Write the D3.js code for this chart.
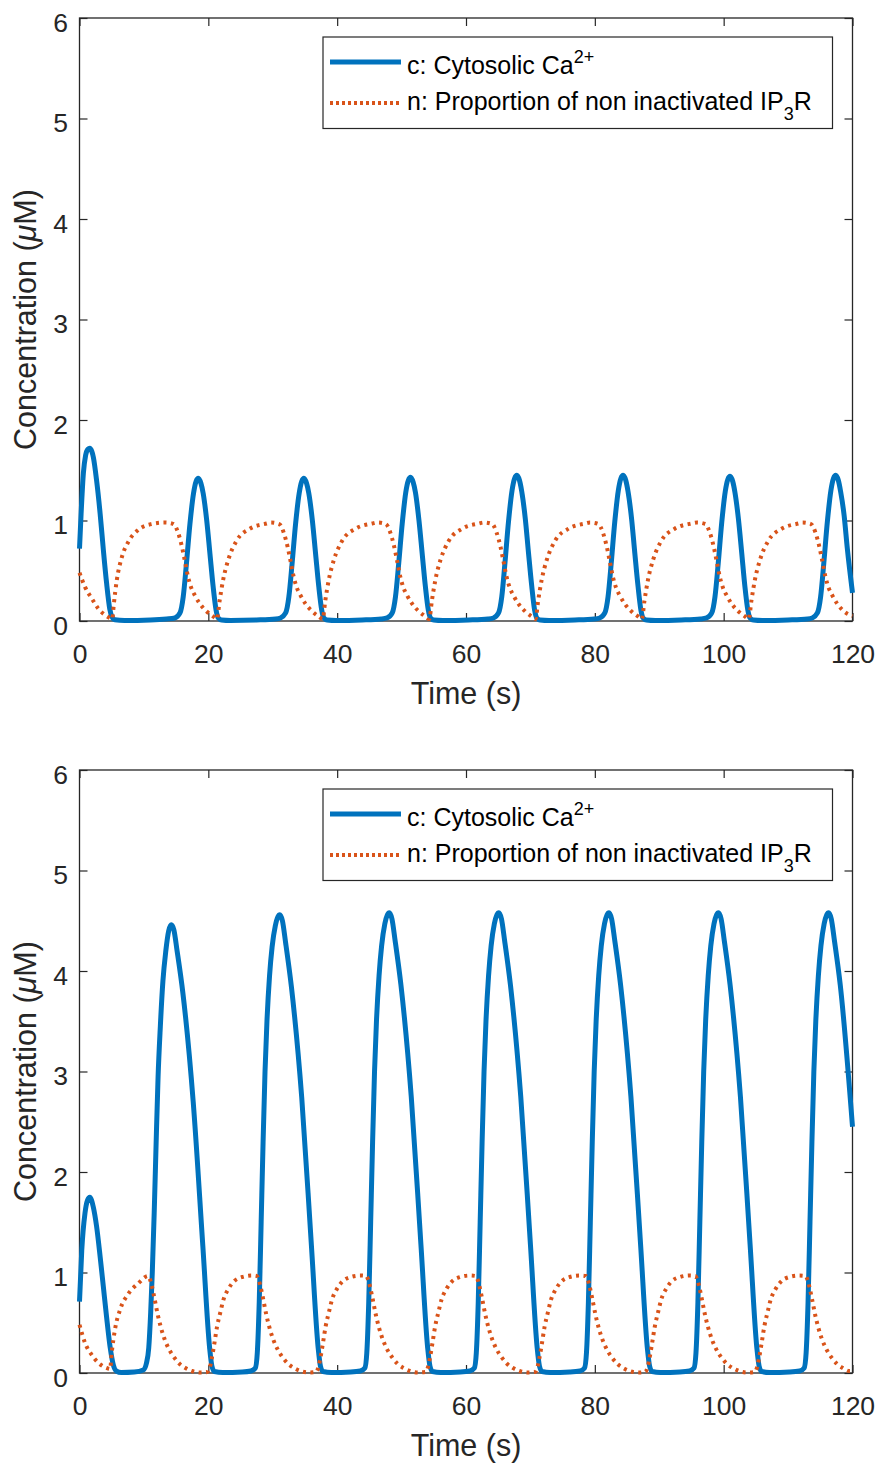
<!DOCTYPE html>
<html>
<head>
<meta charset="utf-8">
<script src="https://cdn.jsdelivr.net/npm/d3@7"></script>
<style>
  body { margin: 0; background: #fff; }
  text { font-family: "Liberation Sans", Arial, Helvetica, sans-serif; fill: #262626; }
</style>
</head>
<body>
<div id="chart"></div>
<script>
// axis ticks
const xTicks = [0, 20, 40, 60, 80, 100, 120];
const yTicks = [0, 1, 2, 3, 4, 5, 6];

// [time (s), value]
// top panel, c: cytosolic Ca2+
const cTop = [[0,0.72],[0.25,1.07],[0.6,1.47],[0.95,1.65],[1.3,1.71],[1.6,1.72],[1.9,1.69],[2.15,1.63],[2.65,1.40],[3.2,1.07],[3.7,0.71],[4.2,0.38],[4.7,0.12],[5.05,0.04],[5.5,0.012],[7,0.005],[11,0.01],[13.5,0.02],
  [14.8,0.03],[15.6,0.08],[16.1,0.24],[16.6,0.57],[17.15,0.97],[17.7,1.27],[18.1,1.39],[18.45,1.42],[18.85,1.37],[19.2,1.27],[19.75,1.0],[20.25,0.67],[20.75,0.34],[21.2,0.11],[21.55,0.03],[22.05,0.01],[23.45,0.005],[27.45,0.01],[30.45,0.02],
  [31.2,0.03],[32.0,0.08],[32.5,0.24],[33.0,0.57],[33.55,0.97],[34.1,1.27],[34.5,1.39],[34.85,1.42],[35.25,1.37],[35.6,1.27],[36.15,1.0],[36.65,0.67],[37.15,0.34],[37.6,0.11],[37.95,0.03],[38.45,0.01],[39.85,0.005],[43.85,0.01],[46.85,0.02],
  [47.75,0.03],[48.55,0.08],[49.05,0.24],[49.55,0.57],[50.1,0.97],[50.65,1.28],[51.05,1.40],[51.4,1.43],[51.8,1.38],[52.15,1.28],[52.7,1.0],[53.2,0.67],[53.7,0.34],[54.15,0.11],[54.5,0.03],[55.0,0.01],[56.4,0.005],[60.4,0.01],[63.4,0.02],
  [64.25,0.03],[65.05,0.08],[65.55,0.24],[66.05,0.58],[66.6,0.99],[67.15,1.30],[67.55,1.42],[67.9,1.45],[68.3,1.40],[68.65,1.29],[69.2,1.02],[69.7,0.68],[70.2,0.35],[70.65,0.11],[71.0,0.03],[71.5,0.01],[72.9,0.005],[76.9,0.01],[79.9,0.02],
  [80.75,0.03],[81.55,0.08],[82.05,0.24],[82.55,0.58],[83.1,0.99],[83.65,1.30],[84.05,1.42],[84.4,1.45],[84.8,1.40],[85.15,1.29],[85.7,1.02],[86.2,0.68],[86.7,0.35],[87.15,0.11],[87.5,0.03],[88.0,0.01],[89.4,0.005],[93.4,0.01],[96.4,0.02],
  [97.35,0.03],[98.15,0.08],[98.65,0.24],[99.15,0.57],[99.7,0.98],[100.25,1.29],[100.65,1.41],[101.0,1.44],[101.4,1.39],[101.75,1.28],[102.3,1.01],[102.8,0.68],[103.3,0.34],[103.75,0.11],[104.1,0.03],[104.6,0.01],[106.0,0.005],[110.0,0.01],[113.0,0.02],
  [113.75,0.03],[114.55,0.08],[115.05,0.24],[115.55,0.58],[116.1,0.99],[116.65,1.30],[117.05,1.42],[117.4,1.45],[117.8,1.40],[118.15,1.29],[118.7,1.05],[119.2,0.72],[120,0.28]];

// top panel, n: proportion of non inactivated IP3R
const nTop = [[0,0.48],[0.85,0.34],[1.9,0.225],[2.9,0.125],[3.95,0.06],[4.7,0.03],[5.1,0.02],[5.3,0.15],[5.8,0.41],[6.55,0.63],[7.6,0.79],[9.1,0.905],[11.2,0.965],[13.3,0.98],
  [14.6,0.965],[15.3,0.88],[15.9,0.74],[16.35,0.6],[16.85,0.44],[17.35,0.33],[17.95,0.25],[18.7,0.17],[19.75,0.095],[20.75,0.045],[21.35,0.02],[21.75,0.2],[22.3,0.41],[23.1,0.61],[24.4,0.8],[26.5,0.92],[29.05,0.97],
  [29.7,0.98],[31.0,0.965],[31.7,0.88],[32.3,0.74],[32.75,0.6],[33.25,0.44],[33.75,0.33],[34.35,0.25],[35.1,0.17],[36.15,0.095],[37.15,0.045],[37.75,0.02],[38.15,0.2],[38.7,0.41],[39.5,0.61],[40.8,0.8],[42.9,0.92],[45.45,0.97],
  [46.25,0.98],[47.55,0.965],[48.25,0.88],[48.85,0.74],[49.3,0.6],[49.8,0.44],[50.3,0.33],[50.9,0.25],[51.65,0.17],[52.7,0.095],[53.7,0.045],[54.3,0.02],[54.7,0.2],[55.25,0.41],[56.05,0.61],[57.35,0.8],[59.45,0.92],[62.0,0.97],
  [62.75,0.98],[64.05,0.965],[64.75,0.88],[65.35,0.74],[65.8,0.6],[66.3,0.44],[66.8,0.33],[67.4,0.25],[68.15,0.17],[69.2,0.095],[70.2,0.045],[70.8,0.02],[71.2,0.2],[71.75,0.41],[72.55,0.61],[73.85,0.8],[75.95,0.92],[78.5,0.97],
  [79.25,0.98],[80.55,0.965],[81.25,0.88],[81.85,0.74],[82.3,0.6],[82.8,0.44],[83.3,0.33],[83.9,0.25],[84.65,0.17],[85.7,0.095],[86.7,0.045],[87.3,0.02],[87.7,0.2],[88.25,0.41],[89.05,0.61],[90.35,0.8],[92.45,0.92],[95.0,0.97],
  [95.85,0.98],[97.15,0.965],[97.85,0.88],[98.45,0.74],[98.9,0.6],[99.4,0.44],[99.9,0.33],[100.5,0.25],[101.25,0.17],[102.3,0.095],[103.3,0.045],[103.9,0.02],[104.3,0.2],[104.85,0.41],[105.65,0.61],[106.95,0.8],[109.05,0.92],[111.6,0.97],
  [112.25,0.98],[113.55,0.965],[114.25,0.88],[114.85,0.74],[115.3,0.6],[115.8,0.44],[116.3,0.33],[116.9,0.25],[117.65,0.17],[118.7,0.095],[120,0.05]];

// bottom panel, c
const cBot = [[0,0.71],[0.35,1.22],[0.85,1.59],[1.25,1.72],[1.6,1.75],[2.15,1.65],[2.65,1.46],[3.2,1.16],[3.7,0.86],[4.2,0.56],[4.75,0.26],[5.25,0.08],[5.7,0.02],[6.5,0.005],[8.5,0.01],[9.9,0.03],
  [10.4,0.1],[10.75,0.25],[11.05,0.6],[11.3,1.0],[11.6,1.6],[11.9,2.3],[12.2,2.95],[12.55,3.45],[12.95,3.9],[13.4,4.2],[13.85,4.4],[14.25,4.46],[14.65,4.41],[15.15,4.2],[16.05,3.78],[17.65,2.7],[19.15,1.26],[20.2,0.25],[20.55,0.07],[20.95,0.015],[22.25,0.005],[25.25,0.01],
  [26.6,0.02],[27.3,0.05],[27.6,0.2],[27.9,0.7],[28.2,1.5],[28.5,2.3],[28.8,3.0],[29.1,3.5],[29.5,3.95],[29.9,4.24],[30.4,4.45],[30.8,4.54],[31.1,4.56],[31.5,4.5],[32.0,4.28],[32.9,3.84],[34.5,2.74],[36.0,1.27],[37.05,0.25],[37.4,0.07],[37.8,0.015],[39.1,0.005],[42.1,0.01],
  [43.6,0.02],[44.3,0.05],[44.6,0.2],[44.9,0.7],[45.2,1.5],[45.5,2.3],[45.8,3.0],[46.1,3.5],[46.5,3.95],[46.9,4.25],[47.4,4.47],[47.8,4.56],[48.1,4.58],[48.5,4.52],[49.0,4.3],[49.9,3.86],[51.5,2.75],[53.0,1.28],[54.05,0.25],[54.4,0.07],[54.8,0.015],[56.1,0.005],[59.1,0.01],
  [60.6,0.02],[61.3,0.05],[61.6,0.2],[61.9,0.7],[62.2,1.5],[62.5,2.3],[62.8,3.0],[63.1,3.5],[63.5,3.95],[63.9,4.25],[64.4,4.47],[64.8,4.56],[65.1,4.58],[65.5,4.52],[66.0,4.3],[66.9,3.86],[68.5,2.75],[70.0,1.28],[71.05,0.25],[71.4,0.07],[71.8,0.015],[73.1,0.005],[76.1,0.01],
  [77.7,0.02],[78.4,0.05],[78.7,0.2],[79.0,0.7],[79.3,1.5],[79.6,2.3],[79.9,3.0],[80.2,3.5],[80.6,3.95],[81.0,4.25],[81.5,4.47],[81.9,4.56],[82.2,4.58],[82.6,4.52],[83.1,4.3],[84.0,3.86],[85.6,2.75],[87.1,1.28],[88.15,0.25],[88.5,0.07],[88.9,0.015],[90.2,0.005],[93.2,0.01],
  [94.7,0.02],[95.4,0.05],[95.7,0.2],[96.0,0.7],[96.3,1.5],[96.6,2.3],[96.9,3.0],[97.2,3.5],[97.6,3.95],[98.0,4.25],[98.5,4.47],[98.9,4.56],[99.2,4.58],[99.6,4.52],[100.1,4.3],[101.0,3.86],[102.6,2.75],[104.1,1.28],[105.15,0.25],[105.5,0.07],[105.9,0.015],[107.2,0.005],[110.2,0.01],
  [111.8,0.02],[112.5,0.05],[112.8,0.2],[113.1,0.7],[113.4,1.5],[113.7,2.3],[114.0,3.0],[114.3,3.5],[114.7,3.95],[115.1,4.25],[115.6,4.47],[116.0,4.56],[116.3,4.58],[116.7,4.52],[117.2,4.3],[118.1,3.86],[120,2.45]];

// bottom panel, n
const nBot = [[0,0.48],[0.85,0.30],[1.9,0.18],[2.95,0.10],[4.2,0.05],[4.75,0.04],[5.0,0.2],[5.5,0.43],[6.3,0.63],[7.6,0.79],[9.1,0.89],
  [10.65,0.965],[10.95,0.93],[11.25,0.86],[11.65,0.74],[12.15,0.58],[12.65,0.45],[13.25,0.33],[13.95,0.23],[14.75,0.15],[15.55,0.09],[16.45,0.05],[17.45,0.02],[18.75,0.005],[19.85,0.01],[20.25,0.06],[20.55,0.15],[20.95,0.3],[21.35,0.46],[21.85,0.6],[22.35,0.73],[23.15,0.84],[23.95,0.91],[25.25,0.955],[26.75,0.97],
  [27.5,0.965],[27.8,0.93],[28.1,0.86],[28.5,0.74],[29.0,0.58],[29.5,0.45],[30.1,0.33],[30.8,0.23],[31.6,0.15],[32.4,0.09],[33.3,0.05],[34.3,0.02],[35.6,0.005],[36.7,0.01],[37.1,0.06],[37.4,0.15],[37.8,0.3],[38.2,0.46],[38.7,0.6],[39.2,0.73],[40.0,0.84],[40.8,0.91],[42.1,0.955],[43.6,0.97],
  [44.5,0.965],[44.8,0.93],[45.1,0.86],[45.5,0.74],[46.0,0.58],[46.5,0.45],[47.1,0.33],[47.8,0.23],[48.6,0.15],[49.4,0.09],[50.3,0.05],[51.3,0.02],[52.6,0.005],[53.7,0.01],[54.1,0.06],[54.4,0.15],[54.8,0.3],[55.2,0.46],[55.7,0.6],[56.2,0.73],[57.0,0.84],[57.8,0.91],[59.1,0.955],[60.6,0.97],
  [61.5,0.965],[61.8,0.93],[62.1,0.86],[62.5,0.74],[63.0,0.58],[63.5,0.45],[64.1,0.33],[64.8,0.23],[65.6,0.15],[66.4,0.09],[67.3,0.05],[68.3,0.02],[69.6,0.005],[70.7,0.01],[71.1,0.06],[71.4,0.15],[71.8,0.3],[72.2,0.46],[72.7,0.6],[73.2,0.73],[74.0,0.84],[74.8,0.91],[76.1,0.955],[77.6,0.97],
  [78.6,0.965],[78.9,0.93],[79.2,0.86],[79.6,0.74],[80.1,0.58],[80.6,0.45],[81.2,0.33],[81.9,0.23],[82.7,0.15],[83.5,0.09],[84.4,0.05],[85.4,0.02],[86.7,0.005],[87.8,0.01],[88.2,0.06],[88.5,0.15],[88.9,0.3],[89.3,0.46],[89.8,0.6],[90.3,0.73],[91.1,0.84],[91.9,0.91],[93.2,0.955],[94.7,0.97],
  [95.6,0.965],[95.9,0.93],[96.2,0.86],[96.6,0.74],[97.1,0.58],[97.6,0.45],[98.2,0.33],[98.9,0.23],[99.7,0.15],[100.5,0.09],[101.4,0.05],[102.4,0.02],[103.7,0.005],[104.8,0.01],[105.2,0.06],[105.5,0.15],[105.9,0.3],[106.3,0.46],[106.8,0.6],[107.3,0.73],[108.1,0.84],[108.9,0.91],[110.2,0.955],[111.7,0.97],
  [112.7,0.965],[113.0,0.93],[113.3,0.86],[113.7,0.74],[114.2,0.58],[114.7,0.45],[115.3,0.33],[116.0,0.23],[116.8,0.15],[117.6,0.09],[118.5,0.05],[119.5,0.02],[120,0.02]];

const blue = "#0072BD", orange = "#D95319", axisCol = "#262626";

const svgW = 879, svgH = 1465;
const plotL = 79.5, plotR = 852.5, plotT = 18, plotB = 621;
const panelStep = 752;

const svg = d3.select("#chart").append("svg")
    .attr("width", svgW)
    .attr("height", svgH);

const x = d3.scaleLinear().domain([0, 120]).range([plotL, plotR]);
const y = d3.scaleLinear().domain([0, 6]).range([plotB, plotT]);

const line = d3.line()
    .x(d => x(d[0]))
    .y(d => y(d[1]))
    .curve(d3.curveMonotoneX);

const panels = [{c: cTop, n: nTop}, {c: cBot, n: nBot}];

panels.forEach(function (p, i) {
  const g = svg.append("g").attr("transform", `translate(0,${i * panelStep})`);

  // ticks on all four sides, pointing inward
  const xb = g.append("g").attr("transform", `translate(0,${plotB})`)
      .call(d3.axisBottom(x).tickValues(xTicks).tickSize(-8).tickSizeOuter(0).tickFormat(d3.format("d")));
  xb.selectAll("text").attr("y", 42).attr("dy", null).style("font-size", "26.5px");
  g.append("g").attr("transform", `translate(0,${plotT})`)
      .call(d3.axisTop(x).tickValues(xTicks).tickSize(-8).tickSizeOuter(0).tickFormat(""));
  const yl = g.append("g").attr("transform", `translate(${plotL},0)`)
      .call(d3.axisLeft(y).tickValues(yTicks).tickSize(-8).tickSizeOuter(0).tickFormat(d3.format("d")));
  yl.selectAll("text").attr("x", -11.5).attr("dy", null).attr("y", 13).style("font-size", "26.5px");
  g.append("g").attr("transform", `translate(${plotR},0)`)
      .call(d3.axisRight(y).tickValues(yTicks).tickSize(-8).tickSizeOuter(0).tickFormat(""));

  g.selectAll(".domain").remove();
  g.selectAll(".tick line").attr("stroke", axisCol).attr("stroke-width", 1.2);
  g.selectAll(".tick text").attr("fill", axisCol).style("font-family", '"Liberation Sans", Arial, sans-serif');

  g.append("rect")
      .attr("x", plotL).attr("y", plotT)
      .attr("width", plotR - plotL).attr("height", plotB - plotT)
      .attr("fill", "none").attr("stroke", axisCol).attr("stroke-width", 1.3);

  // axis labels
  g.append("text")
      .attr("x", (plotL + plotR) / 2).attr("y", 703.5)
      .attr("text-anchor", "middle")
      .style("font-size", "30.5px")
      .text("Time (s)");

  const yt = g.append("text")
      .attr("transform", `translate(36,${(plotT + plotB) / 2}) rotate(-90)`)
      .attr("text-anchor", "middle")
      .style("font-size", "30.5px");
  yt.append("tspan").text("Concentration (");
  yt.append("tspan").style("font-style", "italic").text("\u03BC");
  yt.append("tspan").text("M)");

  // series
  g.append("path").datum(p.c)
      .attr("d", line)
      .attr("fill", "none")
      .attr("stroke", blue)
      .attr("stroke-width", 5)
      .attr("stroke-linejoin", "round");

  g.append("path").datum(p.n)
      .attr("d", line)
      .attr("fill", "none")
      .attr("stroke", orange)
      .attr("stroke-width", 4)
      .attr("stroke-dasharray", "3,4.5");

  // legend
  const lg = g.append("g");
  lg.append("rect")
      .attr("x", 323).attr("y", 37)
      .attr("width", 509.5).attr("height", 91.5)
      .attr("fill", "#fff").attr("stroke", axisCol).attr("stroke-width", 1.2);
  lg.append("line")
      .attr("x1", 330).attr("x2", 401).attr("y1", 62).attr("y2", 62)
      .attr("stroke", blue).attr("stroke-width", 5);
  lg.append("line")
      .attr("x1", 330).attr("x2", 401).attr("y1", 103).attr("y2", 103)
      .attr("stroke", orange).attr("stroke-width", 4).attr("stroke-dasharray", "3,3");

  const t1 = lg.append("text").attr("x", 407).attr("y", 74).style("font-size", "25px").style("fill", "#000");
  t1.append("tspan").text("c: Cytosolic Ca");
  t1.append("tspan").attr("dy", -11).style("font-size", "18px").text("2+");

  const t2 = lg.append("text").attr("x", 407).attr("y", 110).style("font-size", "25px").style("fill", "#000");
  t2.append("tspan").text("n: Proportion of non inactivated IP");
  t2.append("tspan").attr("dy", 10).style("font-size", "18px").text("3");
  t2.append("tspan").attr("dy", -10).text("R");
});
</script>
</body>
</html>
